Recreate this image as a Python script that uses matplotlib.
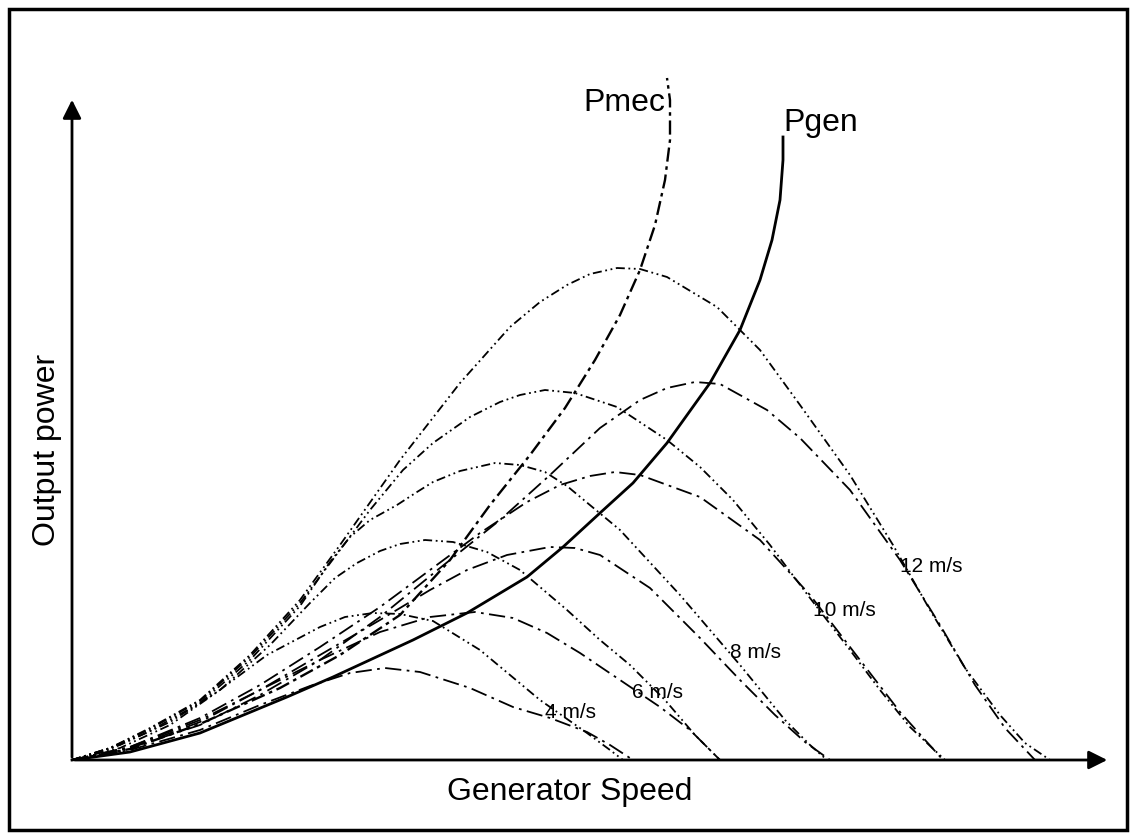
import matplotlib
matplotlib.use("Agg")
import matplotlib.pyplot as plt
from matplotlib.patches import Rectangle

plt.rcParams['font.family'] = ['Liberation Sans', 'DejaVu Sans']

# speed / power in arbitrary units (origin = axis corner)
a12_x = [0, 38, 78, 128, 178, 228, 268, 328, 388, 438, 468, 495, 518, 545, 568, 595, 645, 688, 728, 778, 821, 858, 893, 928, 953, 978]
a12_y = [0, 12, 32, 60, 105, 160, 215, 300, 377, 433, 458, 475, 486, 492, 491, 483, 453, 410, 355, 285, 215, 150, 92, 45, 17, 0]
g12_x = [0, 58, 128, 188, 248, 308, 368, 428, 478, 528, 568, 595, 623, 648, 695, 728, 778, 828, 868, 903, 933, 963]
g12_y = [0, 12, 35, 65, 100, 143, 192, 240, 285, 332, 360, 372, 378, 376, 350, 322, 270, 200, 135, 75, 32, 0]

a10_x = [0, 38, 78, 128, 178, 228, 268, 298, 331, 361, 398, 428, 448, 473, 503, 545, 595, 628, 661, 698, 738, 778, 808, 838, 873]
a10_y = [0, 12, 31, 59, 103, 157, 210, 250, 290, 317, 343, 358, 365, 370, 367, 353, 320, 293, 260, 215, 162, 110, 70, 33, 0]
g10_x = [0, 58, 128, 188, 248, 308, 358, 408, 455, 488, 518, 543, 568, 628, 688, 738, 788, 828, 871]
g10_y = [0, 13, 42, 75, 113, 153, 190, 227, 258, 275, 284, 288, 285, 263, 220, 165, 100, 48, 0]

a8_x = [0, 38, 78, 128, 178, 228, 258, 278, 298, 325, 345, 361, 388, 423, 448, 473, 495, 548, 608, 668, 713, 738, 755]
a8_y = [0, 11, 29, 57, 100, 154, 198, 223, 240, 255, 268, 278, 289, 297, 295, 288, 274, 230, 165, 95, 40, 15, 0]
g8_x = [0, 58, 128, 188, 248, 308, 358, 395, 435, 478, 503, 528, 578, 628, 668, 703, 733, 758]
g8_y = [0, 13, 40, 70, 105, 140, 170, 190, 205, 213, 212, 205, 172, 122, 80, 45, 18, 0]

a6_x = [0, 48, 98, 148, 198, 238, 263, 285, 308, 328, 353, 381, 415, 448, 495, 528, 558, 593, 623, 648]
a6_y = [0, 15, 38, 70, 115, 157, 182, 197, 209, 216, 220, 218, 208, 190, 150, 120, 95, 60, 25, 0]
g6_x = [0, 58, 128, 188, 248, 308, 358, 403, 441, 475, 508, 548, 588, 618, 648]
g6_y = [0, 12, 38, 70, 100, 128, 143, 148, 142, 127, 107, 80, 53, 30, 0]

a4_x = [0, 48, 98, 145, 195, 248, 273, 301, 328, 361, 408, 468, 515, 538, 551]
a4_y = [0, 12, 35, 68, 105, 133, 143, 147, 146, 139, 110, 60, 27, 10, 0]
g4_x = [0, 58, 128, 188, 238, 278, 313, 348, 398, 441, 478, 515, 538, 561]
g4_y = [0, 10, 30, 55, 74, 87, 92, 88, 72, 53, 42, 28, 15, 0]

pmec_x = [0, 58, 128, 208, 268, 328, 378, 418, 458, 493, 523, 548, 568, 583, 593, 598, 598, 595]
pmec_y = [0, 11, 36, 72, 105, 145, 200, 255, 305, 352, 400, 445, 490, 535, 580, 620, 660, 682]
pgen_x = [0, 58, 128, 215, 261, 341, 395, 455, 491, 528, 561, 595, 638, 668, 688, 700, 708, 711, 711]
pgen_y = [0, 8, 27, 63, 83, 120, 147, 183, 213, 247, 277, 317, 377, 430, 480, 520, 560, 600, 623]

wind_labels = ['12 m/s', '10 m/s', '8 m/s', '6 m/s', '4 m/s']
wind_lab_x = [828, 741, 658, 560, 473]
wind_lab_y = [193, 150, 107, 68, 48]

fig = plt.figure(figsize=(11.36, 8.39), dpi=100)
ax = fig.add_axes([72 / 1136, 79 / 839, 1038 / 1136, 700 / 839])
ax.set_xlim(0, 1038)
ax.set_ylim(0, 700)
ax.axis('off')

mech_ls = (0, (5, 2, 1, 2, 1, 2))
gen_ls = (0, (9, 3, 1.5, 3))
mech = [(a12_x, a12_y), (a10_x, a10_y), (a8_x, a8_y), (a6_x, a6_y), (a4_x, a4_y)]
gen = [(g12_x, g12_y), (g10_x, g10_y), (g8_x, g8_y), (g6_x, g6_y), (g4_x, g4_y)]
for x, y in mech:
    ax.plot(x, y, color='black', lw=1.3, ls=mech_ls, clip_on=False)
for x, y in gen:
    ax.plot(x, y, color='black', lw=1.3, ls=gen_ls, clip_on=False)

ax.plot(pmec_x, pmec_y, color='black', lw=1.7, ls=(0, (6, 2, 1.5, 2)), clip_on=False)
ax.plot(pgen_x, pgen_y, color='black', lw=2.0, clip_on=False)

# axes with arrows
ax.annotate('', xy=(0, 663), xytext=(0, 0),
            arrowprops=dict(arrowstyle='-|>', color='black', lw=2, mutation_scale=28))
ax.annotate('', xy=(1038, 0), xytext=(0, 0),
            arrowprops=dict(arrowstyle='-|>', color='black', lw=2, mutation_scale=28))

ax.text(511, 657, 'Pmec', fontsize=23, ha='left', va='center')
ax.text(711, 637, 'Pgen', fontsize=23, ha='left', va='center')
for lab, lx, ly in zip(wind_labels, wind_lab_x, wind_lab_y):
    ax.text(lx, ly, lab, fontsize=15, ha='left', va='center')

ax.text(498, -32, 'Generator Speed', fontsize=23, ha='center', va='center')
ax.text(-25, 310, 'Output power', fontsize=23, ha='center', va='center', rotation=90)

fig.add_artist(Rectangle((9 / 1136, 9 / 839), 1118 / 1136, 821 / 839,
                         transform=fig.transFigure, fill=False, lw=2.5, ec='black'))

plt.savefig("out.png")
